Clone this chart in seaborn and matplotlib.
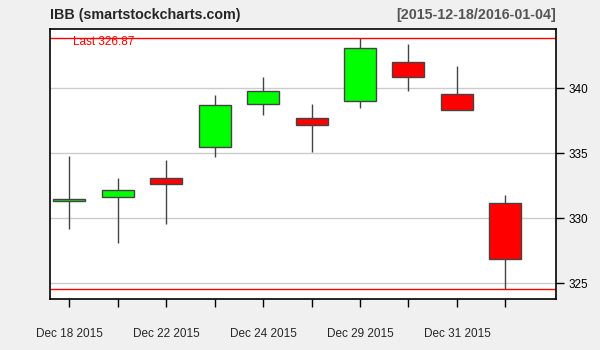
import matplotlib
matplotlib.use("Agg")
import matplotlib.pyplot as plt
import seaborn as sns
import numpy as np

dates = ["Dec 18 2015", "Dec 21 2015", "Dec 22 2015", "Dec 23 2015", "Dec 24 2015",
         "Dec 28 2015", "Dec 29 2015", "Dec 30 2015", "Dec 31 2015", "Jan 04 2016"]
opens = [331.30, 331.60, 333.08, 335.47, 338.77, 337.69, 339.00, 342.00, 339.54, 331.15]
highs = [334.79, 333.10, 334.48, 339.48, 340.87, 338.79, 343.85, 343.40, 341.70, 331.80]
lows = [329.20, 328.12, 329.58, 334.74, 337.97, 335.12, 338.45, 339.80, 338.31, 324.56]
closes = [331.45, 332.15, 332.62, 338.69, 339.77, 337.15, 343.08, 340.85, 338.31, 326.87]
y_ticks = [325, 330, 335, 340]
x_label_idx = [0, 2, 4, 6, 8]

sns.set_style("white")
plt.rcParams['font.family'] = ['Liberation Sans', 'DejaVu Sans']

fig = plt.figure(figsize=(6, 3.5), dpi=100, facecolor="#f0f0f0")
ax = fig.add_axes([50.3/600, 1-299.3/350, (556.3-50.3)/600, (299.3-28.7)/350])
ax.set_facecolor("white")

x = np.arange(len(dates))
for yt in y_ticks:
    ax.axhline(yt, color="#cccccc", lw=1, zorder=0)

ax.axhline(max(highs), color="red", lw=1, zorder=1)
ax.axhline(min(lows), color="red", lw=1, zorder=1)

ax.vlines(x, lows, highs, color="#444444", lw=1, zorder=2)
colors = ["#00ff00" if c >= o else "#ff0000" for o, c in zip(opens, closes)]
bottoms = [min(o, c) for o, c in zip(opens, closes)]
heights = [abs(c - o) for o, c in zip(opens, closes)]
ax.bar(x, heights, bottom=bottoms, width=0.66, color=colors,
       edgecolor="#444444", linewidth=1, zorder=3)

ax.set_xlim(-0.39, 10.05)
ax.set_ylim(323.77, 344.58)

ax.yaxis.tick_right()
ax.set_yticks(y_ticks)
ax.set_yticklabels([str(v) for v in y_ticks], fontsize=8.5)
ax.set_xticks(x)
ax.set_xticklabels(["" for _ in x])
ax.tick_params(axis="x", bottom=True, top=False, direction="out", length=6,
               width=1, color="black")
ax.tick_params(axis="y", right=True, left=False, labelright=True, labelleft=False,
               direction="out", length=6, width=1, color="black",
               labelcolor="black", pad=3)
for i in x_label_idx:
    ax.text(x[i], -0.13, dates[i], transform=ax.get_xaxis_transform(),
            ha="center", va="center", fontsize=8.5)

for s in ax.spines.values():
    s.set_visible(True)
    s.set_color("black")
    s.set_linewidth(1.2)

ax.text(0.045, 344.0, "Last %.2f" % closes[-1], color="red", fontsize=8.5,
        transform=ax.get_yaxis_transform(), ha="left", va="top")
fig.text(50.3/600, 1-15/350, "IBB (smartstockcharts.com)", fontsize=10.3,
         fontweight="bold", ha="left", va="center")
fig.text(556.3/600, 1-15/350, "[2015-12-18/2016-01-04]", fontsize=10.3,
         fontweight="bold", color="#555555", ha="right", va="center")

fig.savefig("out.png", dpi=100, facecolor=fig.get_facecolor())
